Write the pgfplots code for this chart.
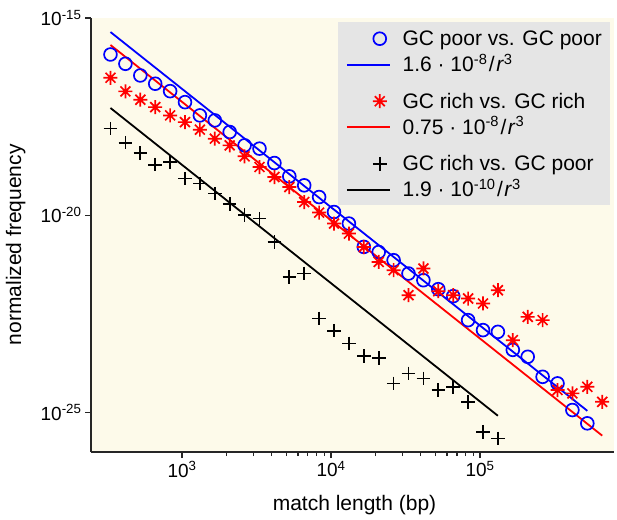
\documentclass[border=0pt]{standalone}
\usepackage{pgfplots}
\pgfplotsset{compat=1.18}
\usepackage{fontspec}
\setmainfont{Liberation Sans}
\definecolor{bgcream}{RGB}{253,250,234}
\definecolor{leggray}{RGB}{229,229,229}
\definecolor{axgray}{RGB}{38,38,38}
\pgfdeclareplotmark{mstar}{%
  \pgfpathmoveto{\pgfqpoint{0pt}{\pgfplotmarksize}}\pgfpathlineto{\pgfqpoint{0pt}{-\pgfplotmarksize}}%
  \pgfpathmoveto{\pgfqpoint{\pgfplotmarksize}{0pt}}\pgfpathlineto{\pgfqpoint{-\pgfplotmarksize}{0pt}}%
  \pgfpathmoveto{\pgfqpoint{0.7071\pgfplotmarksize}{0.7071\pgfplotmarksize}}\pgfpathlineto{\pgfqpoint{-0.7071\pgfplotmarksize}{-0.7071\pgfplotmarksize}}%
  \pgfpathmoveto{\pgfqpoint{0.7071\pgfplotmarksize}{-0.7071\pgfplotmarksize}}\pgfpathlineto{\pgfqpoint{-0.7071\pgfplotmarksize}{0.7071\pgfplotmarksize}}%
  \pgfusepathqstroke}
\pgfplotsset{
  markfirst/.style={legend image code/.code={\path[draw=none,fill=none] (0pt,-8pt) rectangle (43pt,20.5pt); \draw[##1] plot coordinates {(33pt,7pt)};}},
  markleg/.style={legend image code/.code={\path[draw=none,fill=none] (0pt,-8pt) rectangle (43pt,18pt); \draw[##1] plot coordinates {(33pt,7pt)};}},
  linegap/.style={legend image code/.code={\path[draw=none,fill=none] (0pt,-18.5pt) rectangle (43pt,18pt); \draw[##1] (0pt,7pt) -- (43pt,7pt);}},
  linelast/.style={legend image code/.code={\path[draw=none,fill=none] (0pt,-5.5pt) rectangle (43pt,18pt); \draw[##1] (0pt,7pt) -- (43pt,7pt);}},
}
\newcommand\fitlab[2]{#1 · 10\textsuperscript{#2}\kern1.5pt/\kern1.5pt\textit{r}\textsuperscript{3}}
\begin{document}
\begin{tikzpicture}
\useasboundingbox (-91pt,-67pt) rectangle (526pt,452pt);
\begin{axis}[
  at={(0pt,0pt)}, anchor=south west,
  scale only axis, width=523pt, height=434pt,
  xmode=log, ymode=log,
  xmin=245, xmax=7.93e5, ymin=1e-26, ymax=1e-15,
  axis x line*=bottom, axis y line*=left,
  axis line style={draw=axgray, line width=1.3pt, -},
  axis background/.style={fill=bgcream},
  tick align=outside,
  major tick length=6pt, minor tick length=4pt,
  every tick/.style={draw=axgray, line width=1.1pt},
  xtick={1e3,1e4,1e5},
  xticklabels={10\textsuperscript{3},10\textsuperscript{4},10\textsuperscript{5}},
  ytick={1e-15,1e-20,1e-25},
  yticklabels={10\textsuperscript{-15},10\textsuperscript{-20},10\textsuperscript{-25}},
  yminorticks=false,
  tick label style={font=\fontsize{19}{22}\selectfont},
  xlabel={match length (bp)}, ylabel={normalized frequency},
  every axis x label/.style={at={(axis description cs:0.5038,-0.1336)}, anchor=base, font=\fontsize{21}{25}\selectfont},
  every axis y label/.style={at={(axis description cs:-0.1338,0.4777)}, anchor=base, rotate=90, font=\fontsize{21}{25}\selectfont},
  legend style={at={(axis description cs:0.9924,0.9908)}, anchor=north east, fill=leggray, draw=none,
    inner xsep=8pt, inner ysep=3pt, font=\fontsize{21}{25}\selectfont,
    cells={anchor=base west}, column sep=12pt, row sep=0pt, nodes={inner sep=0pt}},
]
\addplot[only marks, blue, mark=o, mark size=6.4pt, line width=1.7pt, markfirst]
coordinates {
(331,1.19e-16) (417,6.92e-17) (525,3.50e-17) (661,2.16e-17) (832,1.40e-17)
(1047,7.38e-18) (1318,3.40e-18) (1660,2.54e-18) (2089,1.29e-18) (2630,5.92e-19)
(3311,4.89e-19) (4169,2.11e-19) (5248,9.70e-20) (6607,5.74e-20) (8318,2.90e-20)
(10471,1.21e-20) (13183,6.17e-21) (16596,1.58e-21) (20893,1.17e-21) (26303,7.26e-22)
(33113,3.34e-22) (41687,2.26e-22) (52481,1.34e-22) (66069,8.91e-23) (83176,2.20e-23)
(104713,1.23e-23) (131826,1.11e-23) (165959,3.88e-24) (208930,2.59e-24) (263027,8.05e-25)
(331131,5.48e-25) (416869,1.16e-25) (524807,5.33e-26)
};
\addlegendentry{GC poor vs. GC poor}
\addplot[blue, line width=1.8pt, linegap] coordinates {(331,4.41e-16) (524807,1.107e-25)};
\addlegendentry{\fitlab{1.6}{-8}}
\addplot[only marks, red, mark=mstar, mark size=7pt, line width=1.7pt, markleg]
coordinates {
(331,3.06e-17) (417,1.38e-17) (525,8.49e-18) (661,5.52e-18) (832,3.40e-18)
(1047,2.30e-18) (1318,1.48e-18) (1660,8.75e-19) (2089,5.92e-19) (2630,3.12e-19)
(3311,1.67e-19) (4169,9.33e-20) (5248,5.20e-20) (6607,2.17e-20) (8318,1.17e-20)
(10471,6.17e-21) (13183,3.44e-21) (16596,1.57e-21) (20893,6.58e-22) (26303,4.06e-22)
(33113,9.44e-23) (41687,4.48e-22) (52481,1.19e-22) (66069,9.44e-23) (83176,7.78e-23)
(104713,5.82e-23) (131826,1.26e-22) (165959,6.84e-24) (208930,2.66e-23) (263027,2.20e-23)
(331131,3.72e-25) (416869,3.06e-25) (524807,4.50e-25) (660693,1.87e-25)
};
\addlegendentry{GC rich vs. GC rich}
\addplot[red, line width=1.8pt, linegap] coordinates {(331,2.068e-16) (660693,2.60e-26)};
\addlegendentry{\fitlab{0.75}{-8}}
\addplot[only marks, black, mark=+, mark size=6.8pt, line width=1.7pt, markleg]
coordinates {
(331,1.57e-18) (417,6.93e-19) (525,3.78e-19) (661,1.92e-19) (832,2.23e-19)
(1047,8.49e-20) (1318,6.35e-20) (1660,3.54e-20) (2089,1.90e-20) (2630,1.00e-20)
(3311,8.24e-21) (4169,2.11e-21) (5248,2.74e-22) (6607,3.34e-22) (8318,2.43e-23)
(10471,1.19e-23) (13183,5.65e-24) (16596,2.69e-24) (20893,2.40e-24) (26303,5.48e-25)
(33113,9.82e-25) (41687,7.35e-25) (52481,3.72e-25) (66069,4.50e-25) (83176,1.87e-25)
(104713,3.27e-26) (131826,2.22e-26)
};
\addlegendentry{GC rich vs. GC poor}
\addplot[black, line width=1.8pt, linelast] coordinates {(331,5.24e-18) (131826,8.29e-26)};
\addlegendentry{\fitlab{1.9}{-10}}
\end{axis}
\end{tikzpicture}
\end{document}
